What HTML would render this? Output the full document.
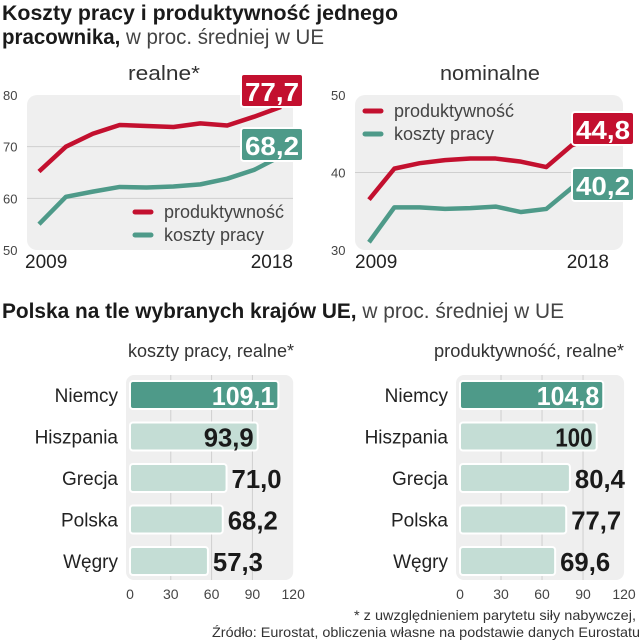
<!DOCTYPE html>
<html><head><meta charset="utf-8"><style>
html,body{margin:0;padding:0;background:#fff}
svg{display:block;font-family:"Liberation Sans",sans-serif}
</style></head><body>
<svg id="c" width="640" height="640" viewBox="0 0 640 640" xmlns="http://www.w3.org/2000/svg">
<text x="2" y="20" font-size="21" font-weight="bold" fill="#1a1a1a" textLength="396" lengthAdjust="spacingAndGlyphs">Koszty pracy i produktywność jednego</text>
<text x="2" y="44" font-size="21" fill="#1a1a1a" textLength="322" lengthAdjust="spacingAndGlyphs"><tspan font-weight="bold">pracownika,</tspan><tspan fill="#444"> w proc. średniej w UE</tspan></text>
<text x="2" y="318" font-size="21" fill="#1a1a1a" textLength="562" lengthAdjust="spacingAndGlyphs"><tspan font-weight="bold">Polska na tle wybranych krajów UE,</tspan><tspan fill="#444"> w proc. średniej w UE</tspan></text>
<text x="164" y="80" font-size="20" fill="#333" text-anchor="middle" textLength="72" lengthAdjust="spacingAndGlyphs">realne*</text>
<text x="490" y="80" font-size="20" fill="#333" text-anchor="middle" textLength="100" lengthAdjust="spacingAndGlyphs">nominalne</text>
<text x="211" y="357" font-size="18" fill="#333" text-anchor="middle" textLength="166" lengthAdjust="spacingAndGlyphs">koszty pracy, realne*</text>
<text x="529" y="357" font-size="18" fill="#333" text-anchor="middle" textLength="190" lengthAdjust="spacingAndGlyphs">produktywność, realne*</text>
<text x="636" y="620" font-size="14" fill="#333" text-anchor="end" textLength="282" lengthAdjust="spacingAndGlyphs">* z uwzględnieniem parytetu siły nabywczej,</text>
<text x="640" y="637" font-size="14" fill="#333" text-anchor="end" textLength="428" lengthAdjust="spacingAndGlyphs">Źródło: Eurostat, obliczenia własne na podstawie danych Eurostatu</text>
<g id="g"></g>
</svg>
<script>
const years = [2009,2010,2011,2012,2013,2014,2015,2016,2017,2018];
const realProd = [65.2,70,72.5,74.2,74,73.8,74.5,74.1,75.8,77.7];
const realCost = [55,60.3,61.3,62.2,62.1,62.3,62.7,63.8,65.5,68.2];
const realTicks = [50,60,70,80];
const nomProd = [36.5,40.5,41.2,41.6,41.8,41.8,41.4,40.7,43.5,44.8];
const nomCost = [31,35.5,35.5,35.3,35.4,35.6,34.9,35.3,38,40.2];
const nomTicks = [30,40,50];
const countries = ["Niemcy","Hiszpania","Grecja","Polska","Węgry"];
const costVals = [109.1,93.9,71.0,68.2,57.3];
const prodVals = [104.8,100,80.4,77.7,69.6];
const barTicks = [0,30,60,90,120];

const NS="http://www.w3.org/2000/svg", G=document.getElementById('g');
const RED="#c3102f", TEAL="#4e9a89", LT="#c4ddd5";
function mk(t,a,p){const e=document.createElementNS(NS,t);for(const k in a)e.setAttribute(k,a[k]);(p||G).appendChild(e);return e;}
const fmt=v=>v.toFixed(1).replace('.',',');

function lineChart(o){
  const y=v=>o.yb-(v-o.min)/(o.max-o.min)*(o.yb-o.yt);
  const x=i=>o.x0+(o.x1-o.x0)*i/(years.length-1);
  const bg=mk('rect',{x:o.bx0,y:o.yt,width:o.bx1-o.bx0,height:o.yb-o.yt,rx:10,fill:"#efefef"});
  
  
  o.ticks.forEach(t=>{
    if(t>o.min&&t<o.max){const l=mk('line',{x1:o.bx0,x2:o.bx1,y1:y(t),y2:y(t),stroke:"#cfcfcf","stroke-width":1});
    
    }
    const tx=mk('text',{x:o.bx0-24,y:y(t)+5,"font-size":13,fill:"#444"});tx.textContent=t;
    
    
  });
  [[0,"start"],[years.length-1,"end"]].forEach(([i,a])=>{
    const tx=mk('text',{x:i?x(i)+12:x(i)-14,y:o.yb+18,"font-size":19,fill:"#222","text-anchor":a});tx.textContent=years[i];
    
    
  });
  [[o.cost,TEAL,'cost-line'],[o.prod,RED,'productivity-line']].forEach(([d,c,n])=>{
    const p=mk('polyline',{points:d.map((v,i)=>x(i)+','+y(v)).join(' '),fill:"none",stroke:c,"stroke-width":4.5,"stroke-linejoin":"round"});
    
    
  });
  [[o.prod,RED,o.pb,'productivity-value-badge'],[o.cost,TEAL,o.cb,'cost-value-badge']].forEach(([d,c,by,n])=>{
    const g=mk('g',{});
    
    
    mk('rect',{x:o.lx,y:by,width:62,height:33,rx:3,fill:c,stroke:"#fff","stroke-width":2},g);
    const t=mk('text',{x:o.lx+31,y:by+27,"font-size":26,"font-weight":"bold",fill:"#fff","text-anchor":"middle",textLength:54,lengthAdjust:"spacingAndGlyphs"},g);
    t.textContent=fmt(d[d.length-1]);
  });
  [[RED,"produktywność",0],[TEAL,"koszty pracy",1]].forEach(([c,s,k])=>{
    const yy=o.legY+k*23;
    const l=mk('line',{x1:o.legX,x2:o.legX+16,y1:yy,y2:yy,stroke:c,"stroke-width":5,"stroke-linecap":"round"});
    
    
    const t=mk('text',{x:o.legX+29,y:yy+6,"font-size":18,fill:"#444"});t.textContent=s;
    
    
  });
}
lineChart({name:'real',prod:realProd,cost:realCost,ticks:realTicks,min:50,max:80,yt:95,yb:250,bx0:27,bx1:293,x0:39,x1:281,lx:241,pb:74,cb:128,legX:135,legY:212});
lineChart({name:'nominal',prod:nomProd,cost:nomCost,ticks:nomTicks,min:30,max:50,yt:95,yb:250,bx0:355,bx1:623,x0:369,x1:597,lx:572,pb:112,cb:168,legX:365,legY:111});

function barChart(o){
  const sx=v=>o.x0+v*o.k;
  const rowY=i=>395+i*41.5;
  const bg=mk('rect',{x:o.x0-4,y:375,width:sx(120)-o.x0+4,height:205,rx:8,fill:"#efefef"});
  
  
  barTicks.forEach(t=>{
    if(t>0&&t<120){const l=mk('line',{x1:sx(t),x2:sx(t),y1:375,y2:580,stroke:"#cfcfcf"});
    
    }
    const tx=mk('text',{x:sx(t),y:599,"font-size":14,fill:"#444","text-anchor":"middle"});tx.textContent=t;
    
    
  });
  o.vals.forEach((v,i)=>{
    const cy=rowY(i);
    const lb=mk('text',{x:o.x0-12,y:cy+7,"font-size":19,fill:"#222","text-anchor":"end"});lb.textContent=countries[i];
    
    
    const r=mk('rect',{x:o.x0,y:cy-14,width:v*o.k,height:28,rx:3,fill:i?LT:TEAL,stroke:"#fff","stroke-width":2});
    
    
    const s=v===100?"100":fmt(v);
    const inside=v>90;
    const t=mk('text',{x:inside?sx(v)-4:sx(v)+5,y:cy+10,"font-size":26,"font-weight":"bold",fill:i?"#1a1a1a":"#fff","text-anchor":inside?"end":"start",textLength:s.length*12.5,lengthAdjust:"spacingAndGlyphs"});
    t.textContent=s;
    
    
  });
}
barChart({name:'costs',vals:costVals,x0:130,k:1.36});
barChart({name:'productivity',vals:prodVals,x0:460,k:1.367});
</script>
</body></html>
